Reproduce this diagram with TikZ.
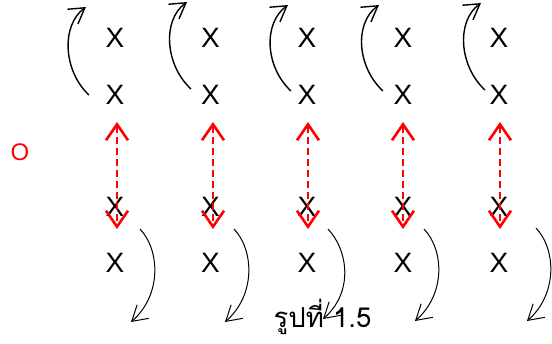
\documentclass[tikz,border=0pt]{standalone}
\usepackage{fontspec}
\setmainfont{Liberation Sans}
\newfontfamily\thaifont[Script=Thai]{Loma}
\usepackage{xcolor}
\usepackage{tikz}
\usetikzlibrary{arrows.meta, calc}
\definecolor{dipRed}{RGB}{255, 0, 0}

\begin{document}
\begin{tikzpicture}[
        x=1pt, y=-1pt,
        xmark/.style={inner sep=0pt, font=\fontsize{28}{28}\selectfont},
        turn/.style={-{Straight Barb[length=15pt, width=18pt]}, line width=1.4pt},
        fall/.style={-{Straight Barb[length=15pt, width=18pt]}, line width=1pt},
        dip/.style={{Straight Barb[length=16pt, width=22pt]}-{Straight Barb[length=16pt, width=22pt]},
            line width=2.6pt, dipRed, dash pattern=on 7pt off 4pt}
    ]
    \useasboundingbox (0,0) rectangle (552,343);

    % four rows of X in five columns
    \foreach \c/\xc in {1/115, 2/210.5, 3/307, 4/403, 5/499} {
        \node[xmark] (x\c a) at (\xc,38)  {X};
        \node[xmark] (x\c b) at (\xc,95)  {X};
        \node[xmark] (x\c c) at (\xc,207) {X};
        \node[xmark] (x\c d) at (\xc,263) {X};
    }
    \node[inner sep=0pt, font=\fontsize{24}{24}\selectfont, text=dipRed] (orig) at (20,152) {O};

    % top turning arrows
    \foreach \c/\sx/\sy/\tx/\ty in {1/89/95/86/7, 2/191/89/187/2, 3/291/91/288/5,
                                    4/383/91/379/5, 5/485/90/481/3} {
        \coordinate (ts\c) at (\sx,\sy);
        \coordinate (tt\c) at (\tx,\ty);
        \draw[turn] (ts\c) .. controls ($(ts\c)+(-26,-24)$) and ($(tt\c)+(-25,18)$) .. (tt\c);
    }

    % bottom turning arrows
    \foreach \c/\sx/\sy/\tx/\ty in {1/140/229/131/322, 2/234/229/225/322, 3/328/229/323/319,
                                    4/424/229/415/321, 5/536/228/527/321} {
        \coordinate (bs\c) at (\sx,\sy);
        \coordinate (bt\c) at (\tx,\ty);
        \draw[fall] (bs\c) .. controls ($(bs\c)+(20,21)$) and ($(bt\c)+(31,-27)$) .. (bt\c);
    }

    % red double arrows between the middle rows
    \foreach \c/\rx in {1/117, 2/213, 3/308, 4/403, 5/500} {
        \coordinate (du\c) at (\rx,122);
        \coordinate (dd\c) at (\rx,229);
        \draw[dip] (du\c) -- (dd\c);
    }

    \node[anchor=base, inner sep=0pt, font=\thaifont\fontsize{27.5}{28}\selectfont] (cap) at (322.5,327) {รูปที่ 1.5};
\end{tikzpicture}
\end{document}
